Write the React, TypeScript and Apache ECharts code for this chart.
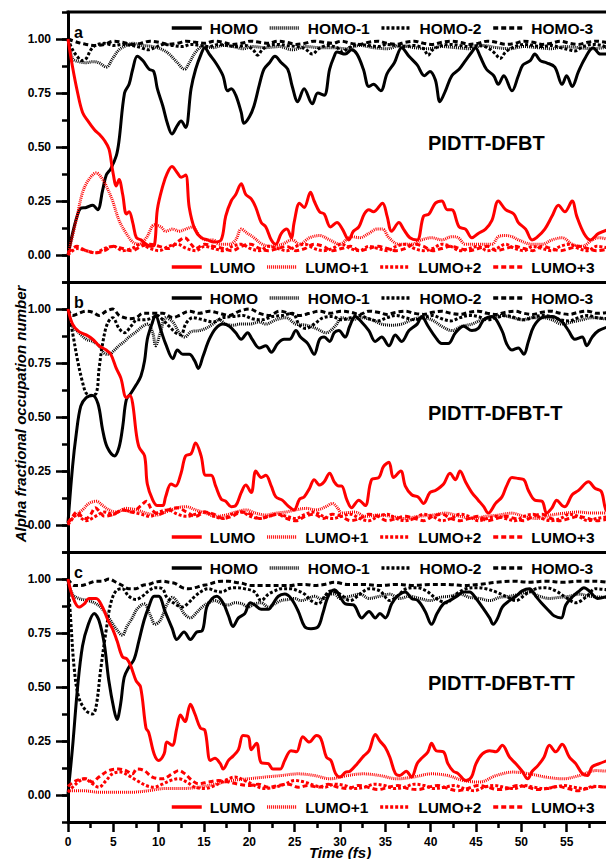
import React, { useEffect, useRef } from "react";
import * as echarts from "echarts";

// ---------- data (time in fs, alpha fractional occupation number) ----------
const seriesNames = ["HOMO", "HOMO-1", "HOMO-2", "HOMO-3", "LUMO", "LUMO+1", "LUMO+2", "LUMO+3"];
const panelTitles = ["PIDTT-DFBT", "PIDTT-DFBT-T", "PIDTT-DFBT-TT"];
const panelLetters = ["a", "b", "c"];
const yTickLabels = ["0.00", "0.25", "0.50", "0.75", "1.00"];
const xTickLabels = ["0", "5", "10", "15", "20", "25", "30", "35", "40", "45", "50", "55"];

// Panel a
const aHomo = [[0,0],[0.5,0.1],[1.0,0.18],[1.4,0.216],[2.0,0.22],[2.7,0.23],[3.25,0.21],[3.8,0.30],[4.2,0.37],[4.7,0.40],[5.3,0.46],[5.6,0.53],[6.2,0.75],[6.7,0.79],[7.1,0.86],[7.6,0.92],[8.2,0.90],[8.9,0.86],[9.4,0.85],[9.8,0.77],[10.4,0.69],[10.9,0.61],[11.4,0.56],[12.0,0.60],[12.4,0.62],[12.9,0.59],[13.5,0.77],[14.0,0.86],[14.6,0.93],[15.0,0.96],[15.5,0.93],[16.2,0.89],[17.0,0.83],[17.5,0.76],[17.9,0.77],[18.4,0.74],[19.0,0.66],[19.3,0.61],[19.9,0.64],[20.4,0.69],[21.0,0.79],[21.5,0.86],[22.1,0.89],[22.7,0.92],[23.4,0.89],[24.1,0.86],[24.6,0.78],[25.2,0.71],[25.9,0.77],[26.8,0.70],[27.4,0.75],[28.1,0.74],[28.7,0.86],[29.2,0.92],[29.5,0.94],[30.4,0.93],[31.1,0.95],[31.7,0.93],[32.4,0.86],[33.0,0.78],[33.5,0.79],[34.3,0.76],[35.0,0.84],[35.8,0.89],[36.6,0.96],[37.4,0.92],[38.3,0.88],[39.1,0.83],[39.7,0.85],[40.3,0.81],[40.8,0.71],[41.4,0.76],[42.1,0.83],[42.9,0.86],[43.6,0.90],[44.3,0.94],[44.7,0.96],[45.2,0.92],[45.9,0.86],[46.7,0.83],[47.2,0.79],[47.8,0.83],[48.7,0.76],[49.4,0.83],[49.9,0.88],[50.7,0.90],[51.2,0.93],[51.8,0.90],[52.5,0.89],[53.4,0.87],[54.2,0.79],[54.7,0.83],[55.3,0.78],[56.0,0.85],[56.7,0.91],[57.6,0.96],[58.4,0.93],[59.5,0.93]];
const aHomo1 = [[0,1.0],[0.5,0.91],[1.2,0.895],[2.0,0.89],[2.7,0.895],[3.4,0.89],[4.2,0.87],[4.9,0.91],[5.6,0.95],[6.4,0.97],[7.1,0.98],[8.2,0.97],[9.3,0.965],[10.4,0.95],[11.1,0.93],[11.9,0.895],[12.8,0.86],[13.3,0.89],[14.0,0.94],[14.8,0.965],[15.9,0.96],[17.0,0.97],[18.1,0.965],[19.2,0.955],[20.2,0.965],[21.7,0.96],[23.2,0.965],[24.6,0.95],[26.1,0.965],[27.6,0.96],[29,0.96],[30.5,0.955],[32,0.97],[33.5,0.96],[35,0.955],[36.5,0.97],[38,0.96],[39.5,0.955],[41,0.965],[42.5,0.96],[44,0.955],[45.5,0.97],[47,0.96],[48.5,0.955],[50,0.965],[51.5,0.96],[53,0.955],[54.5,0.965],[56,0.96],[57.5,0.955],[59.5,0.965]];
const aHomo2 = [[0,1.0],[0.5,0.95],[1.0,0.92],[1.5,0.90],[2.0,0.91],[2.5,0.95],[3.0,0.97],[4,0.98],[5,0.97],[6,0.975],[7,0.97],[8,0.96],[8.8,0.95],[9.5,0.96],[10.5,0.975],[11.5,0.97],[12.5,0.965],[13.5,0.975],[14.5,0.97],[15.5,0.965],[16.5,0.975],[17.5,0.97],[18.5,0.965],[19.5,0.97],[20.3,0.95],[20.8,0.925],[21.3,0.95],[22,0.97],[23,0.975],[24,0.97],[25,0.965],[26,0.955],[26.8,0.93],[27.5,0.955],[28.5,0.97],[29.5,0.96],[30.1,0.94],[30.8,0.96],[32,0.975],[33,0.97],[34,0.965],[35,0.975],[36,0.97],[37,0.965],[38,0.97],[39,0.955],[39.5,0.925],[40,0.95],[41,0.97],[42,0.975],[43,0.97],[44,0.965],[45,0.97],[46,0.96],[46.8,0.935],[47.4,0.91],[48,0.94],[49,0.965],[50,0.975],[51,0.97],[52,0.965],[53,0.97],[54,0.96],[55,0.95],[55.6,0.945],[56.5,0.965],[57.5,0.975],[58.5,0.97],[59.5,0.955]];
const aHomo3 = [[0,1.0],[1,0.985],[2,0.975],[3,0.97],[4,0.975],[5,0.99],[6,0.985],[7,0.975],[8,0.98],[9,0.99],[10,0.985],[11,0.975],[12,0.98],[13,0.99],[14,0.985],[15,0.98],[16,0.99],[17,0.985],[18,0.975],[19,0.98],[20,0.99],[21,0.985],[22,0.98],[23,0.99],[24,0.985],[25,0.975],[26,0.98],[27,0.99],[28,0.985],[29,0.98],[30,0.99],[31,0.98],[32,0.975],[33,0.985],[34,0.99],[35,0.98],[36,0.975],[37,0.985],[38,0.99],[39,0.98],[40,0.975],[41,0.985],[42,0.99],[43,0.985],[44,0.975],[45,0.98],[46,0.99],[47,0.985],[48,0.975],[49,0.98],[50,0.99],[51,0.985],[52,0.975],[53,0.98],[54,0.99],[55,0.98],[56,0.975],[57,0.985],[58,0.99],[59.5,0.98]];
const aLumo = [[0,1.0],[0.5,0.87],[1.06,0.75],[1.6,0.66],[2.2,0.62],[2.9,0.58],[3.4,0.56],[4.0,0.53],[4.5,0.49],[4.9,0.39],[5.3,0.32],[5.6,0.35],[6.0,0.28],[6.4,0.19],[6.7,0.20],[7.1,0.15],[7.5,0.08],[8.0,0.07],[8.6,0.05],[9.1,0.04],[9.5,0.05],[9.8,0.21],[10.4,0.32],[10.9,0.38],[11.4,0.41],[12.0,0.38],[12.4,0.36],[12.9,0.37],[13.3,0.22],[13.9,0.12],[14.6,0.08],[15.3,0.07],[16.0,0.06],[16.8,0.07],[17.3,0.18],[17.9,0.25],[18.4,0.28],[19.0,0.33],[19.5,0.28],[20.1,0.26],[20.6,0.22],[21.2,0.15],[21.7,0.13],[22.3,0.07],[22.8,0.05],[23.4,0.10],[24.0,0.12],[24.5,0.08],[24.8,0.15],[25.4,0.24],[25.9,0.22],[26.6,0.29],[27.0,0.25],[27.6,0.20],[28.1,0.19],[28.8,0.13],[29.5,0.15],[30.1,0.12],[30.8,0.07],[31.3,0.11],[31.9,0.13],[32.5,0.19],[33.0,0.21],[33.5,0.20],[34.5,0.24],[35.0,0.18],[35.5,0.11],[36.3,0.15],[36.8,0.12],[37.5,0.08],[38.3,0.07],[39.0,0.18],[39.6,0.19],[40.3,0.24],[41.0,0.25],[41.6,0.21],[42.1,0.21],[42.9,0.13],[43.6,0.12],[44.3,0.08],[45.0,0.10],[45.8,0.12],[46.5,0.16],[47.2,0.25],[48.0,0.21],[48.9,0.19],[49.4,0.15],[50.2,0.12],[50.9,0.07],[51.4,0.08],[52.3,0.12],[53.1,0.18],[53.8,0.23],[54.5,0.20],[55.3,0.25],[55.8,0.18],[56.6,0.10],[57.3,0.07],[58.2,0.10],[59.5,0.12]];
const aLumo1 = [[0,0],[0.9,0.16],[1.6,0.29],[2.3,0.35],[3.1,0.38],[3.8,0.35],[4.3,0.31],[4.9,0.25],[5.6,0.16],[6.4,0.10],[7.1,0.06],[7.8,0.05],[8.6,0.08],[9.5,0.14],[10.2,0.13],[10.7,0.11],[11.5,0.12],[12.2,0.11],[12.9,0.12],[13.7,0.13],[14.4,0.09],[15.1,0.07],[15.9,0.07],[16.6,0.05],[17.7,0.05],[18.4,0.07],[19.0,0.12],[19.7,0.10],[20.4,0.08],[21.3,0.05],[22.4,0.04],[23.5,0.05],[24.6,0.07],[25.4,0.05],[26.5,0.08],[27.6,0.09],[28.7,0.07],[29.8,0.05],[31.1,0.085],[32.0,0.08],[33.0,0.10],[33.9,0.12],[34.5,0.12],[35.2,0.08],[36.3,0.05],[37.7,0.05],[38.8,0.07],[39.9,0.08],[41.0,0.07],[42.1,0.085],[42.8,0.08],[43.6,0.05],[45.0,0.05],[46.5,0.05],[47.2,0.085],[48.0,0.09],[48.7,0.085],[49.4,0.07],[50.9,0.05],[52.0,0.05],[53.1,0.07],[54.2,0.08],[55.3,0.05],[56.4,0.04],[57.5,0.07],[58.2,0.08],[59.5,0.07]];
const aLumo2 = [[0,0],[1,0.03],[2,0.02],[3,0.01],[4,0.03],[5,0.04],[6,0.02],[7,0.03],[8,0.05],[9,0.03],[10,0.02],[11,0.04],[12,0.05],[13,0.03],[14,0.02],[15,0.04],[16,0.03],[17,0.02],[18,0.04],[19,0.05],[20,0.03],[21,0.02],[22,0.04],[23,0.03],[24,0.02],[25,0.04],[26,0.05],[27,0.03],[28,0.02],[29,0.03],[30,0.05],[31,0.03],[32,0.02],[33,0.04],[34,0.03],[35,0.02],[36,0.04],[37,0.05],[38,0.03],[39,0.02],[40,0.03],[41,0.05],[42,0.04],[43,0.02],[44,0.03],[45,0.04],[46,0.02],[47,0.03],[48,0.05],[49,0.03],[50,0.02],[51,0.04],[52,0.03],[53,0.02],[54,0.04],[55,0.05],[56,0.03],[57,0.02],[58,0.04],[59.5,0.03]];
const aLumo3 = [[0,0.01],[0.5,0.03],[1,0.04],[1.5,0.03],[2,0.02],[3,0.01],[4,0.02],[5,0.04],[6,0.03],[7,0.02],[8,0.04],[9,0.05],[10,0.04],[11,0.03],[12,0.06],[12.8,0.08],[13.5,0.05],[14,0.03],[15,0.05],[16,0.04],[17,0.03],[18,0.02],[19,0.04],[20,0.05],[21,0.03],[22,0.02],[23,0.03],[24,0.04],[25,0.02],[26,0.03],[27,0.05],[28,0.04],[29,0.02],[30,0.03],[31,0.04],[32,0.02],[33,0.03],[34,0.04],[35,0.03],[36,0.02],[37,0.03],[38,0.05],[39,0.04],[40,0.02],[41,0.03],[42,0.04],[43,0.03],[44,0.02],[45,0.03],[46,0.04],[47,0.02],[48,0.03],[49,0.04],[50,0.03],[51,0.02],[52,0.04],[53,0.03],[54,0.02],[55,0.03],[56,0.04],[57,0.03],[58,0.02],[59.5,0.03]];

// Panel b
const bHomo = [[0,0.01],[0.5,0.27],[0.9,0.42],[1.4,0.55],[2.0,0.59],[2.7,0.60],[3.3,0.56],[3.8,0.44],[4.3,0.36],[5.1,0.32],[5.6,0.36],[6.0,0.455],[6.4,0.58],[6.9,0.61],[7.5,0.65],[8.0,0.69],[8.4,0.76],[8.7,0.86],[9.2,0.93],[9.6,0.97],[10.2,0.90],[10.7,0.84],[11.5,0.77],[12.0,0.81],[12.6,0.79],[13.3,0.79],[13.9,0.76],[14.3,0.725],[14.8,0.78],[15.5,0.86],[16.2,0.91],[17.0,0.93],[17.7,0.92],[18.4,0.89],[19.0,0.86],[19.7,0.89],[20.2,0.86],[21.0,0.82],[21.7,0.83],[22.3,0.80],[23.0,0.84],[23.7,0.86],[24.3,0.86],[25.0,0.90],[25.5,0.87],[26.3,0.84],[27.0,0.79],[27.6,0.86],[28.1,0.87],[28.7,0.85],[29.2,0.89],[29.7,0.90],[30.4,0.87],[30.9,0.92],[31.5,0.965],[32.2,0.94],[33.0,0.90],[33.7,0.85],[34.4,0.87],[35.2,0.83],[35.9,0.88],[36.6,0.85],[37.4,0.90],[38.3,0.93],[38.8,0.965],[39.5,0.92],[40.3,0.87],[41.0,0.84],[41.7,0.84],[42.5,0.89],[43.4,0.92],[44.3,0.90],[45.0,0.91],[45.6,0.95],[46.5,0.965],[47.6,0.90],[48.1,0.84],[48.7,0.81],[49.4,0.82],[50.0,0.79],[50.5,0.85],[51.1,0.92],[52.0,0.96],[53.1,0.965],[54.2,0.94],[54.9,0.90],[55.6,0.86],[56.4,0.87],[56.9,0.83],[57.5,0.87],[58.2,0.90],[59.5,0.92]];
const bHomo1 = [[0,1.0],[0.5,0.92],[1.2,0.89],[2.0,0.86],[2.7,0.85],[3.4,0.83],[4.0,0.795],[4.5,0.79],[5.1,0.81],[5.6,0.83],[6.2,0.85],[6.7,0.87],[7.5,0.895],[8.2,0.92],[8.7,0.93],[9.3,0.89],[9.6,0.83],[10.2,0.90],[10.7,0.96],[11.5,0.94],[12.2,0.89],[12.8,0.87],[13.5,0.895],[14.4,0.90],[15.1,0.91],[15.9,0.93],[16.6,0.95],[17.3,0.93],[18.1,0.925],[18.8,0.93],[19.9,0.93],[21,0.94],[21.7,0.93],[22.8,0.95],[23.9,0.96],[25,0.93],[26.1,0.925],[27.2,0.91],[28.3,0.89],[29.4,0.925],[30,0.96],[31.1,0.95],[32.2,0.96],[33.3,0.95],[34.4,0.93],[35.5,0.925],[36.6,0.93],[37.7,0.95],[38.8,0.96],[39.9,0.95],[41,0.92],[42.1,0.90],[43.2,0.92],[44.3,0.93],[45.4,0.95],[46.5,0.96],[47.6,0.97],[48.7,0.96],[49.8,0.95],[50.9,0.96],[52,0.96],[53.1,0.95],[54.2,0.93],[55.3,0.94],[56.4,0.95],[57.5,0.96],[59.5,0.95]];
const bHomo2 = [[0,1.0],[0.5,0.89],[1.06,0.76],[1.6,0.66],[2.0,0.61],[2.5,0.60],[3.1,0.61],[3.4,0.72],[3.8,0.84],[4.3,0.93],[4.9,0.96],[5.6,0.91],[6.2,0.89],[6.9,0.92],[7.6,0.95],[8.4,0.95],[9.3,0.96],[9.8,0.97],[10.4,0.95],[11.1,0.92],[11.8,0.89],[12.4,0.88],[12.9,0.93],[13.7,0.96],[14.8,0.95],[15.9,0.94],[17,0.96],[18.1,0.965],[19.2,0.97],[20.2,0.955],[21.3,0.95],[22.4,0.965],[23.5,0.97],[24.6,0.98],[25.4,0.925],[26.1,0.91],[27,0.93],[28,0.96],[29,0.965],[30,0.95],[31,0.96],[32,0.97],[33,0.955],[34,0.945],[35,0.96],[36,0.97],[37,0.96],[38,0.95],[39,0.96],[40,0.97],[41,0.955],[42,0.945],[43,0.96],[44,0.97],[45,0.965],[46,0.95],[47,0.96],[48,0.97],[49,0.96],[50,0.95],[51,0.96],[52,0.97],[53,0.965],[54,0.95],[55,0.945],[56,0.96],[57,0.97],[58,0.96],[59.5,0.955]];
const bHomo3 = [[0,1.0],[0.5,0.97],[1.2,0.98],[2.0,0.99],[2.7,0.985],[3.4,0.97],[4.2,0.99],[4.9,1.0],[5.6,0.97],[6.2,0.96],[6.7,0.955],[7.5,0.96],[8.2,0.98],[9.3,0.98],[10.4,0.98],[11.5,0.96],[12.2,0.97],[13.3,0.99],[14.4,0.98],[15.5,0.99],[16.6,0.98],[17.7,0.97],[18.8,0.99],[19.9,1.0],[21,0.98],[22.1,0.97],[23.2,0.99],[24.3,0.98],[25.4,0.97],[26.5,0.98],[27.6,0.99],[28.7,0.98],[30,0.99],[31,0.985],[32,0.975],[33,0.99],[34,0.985],[35,0.975],[36,0.985],[37,0.99],[38,0.98],[39,0.975],[40,0.985],[41,0.99],[42,0.98],[43,0.975],[44,0.985],[45,0.99],[46,0.98],[47,0.975],[48,0.985],[49,0.99],[50,0.98],[51,0.975],[52,0.985],[53,0.99],[54,0.98],[55,0.975],[56,0.985],[57,0.99],[58,0.98],[59.5,0.985]];
const bLumo = [[0,1.0],[0.5,0.93],[1.2,0.895],[2.0,0.88],[2.7,0.86],[3.4,0.83],[4.2,0.81],[4.7,0.79],[5.3,0.725],[5.8,0.68],[6.4,0.59],[6.8,0.60],[7.1,0.56],[7.5,0.42],[7.8,0.36],[8.4,0.32],[8.7,0.19],[9.3,0.115],[9.8,0.09],[10.4,0.09],[10.7,0.13],[11.3,0.19],[11.8,0.18],[12.4,0.24],[12.9,0.32],[13.5,0.33],[14.0,0.38],[14.6,0.32],[15.1,0.23],[15.7,0.23],[16.2,0.18],[16.8,0.12],[17.3,0.11],[17.9,0.085],[18.4,0.09],[19.0,0.15],[19.5,0.185],[20.1,0.15],[20.6,0.25],[21.2,0.22],[21.7,0.23],[22.3,0.18],[22.8,0.13],[23.5,0.115],[24.1,0.09],[24.8,0.07],[25.4,0.12],[25.9,0.13],[26.5,0.17],[27.0,0.21],[27.6,0.185],[28.1,0.20],[28.7,0.24],[29.2,0.20],[29.7,0.18],[30.0,0.18],[30.6,0.115],[31.1,0.08],[31.9,0.115],[32.6,0.09],[33.3,0.21],[34.1,0.22],[34.6,0.27],[35.2,0.29],[35.7,0.22],[36.5,0.25],[37.0,0.18],[37.7,0.14],[38.4,0.13],[39.0,0.10],[39.7,0.15],[40.3,0.16],[41.2,0.19],[41.9,0.24],[42.5,0.21],[43.0,0.25],[43.6,0.20],[44.3,0.15],[45.0,0.115],[45.6,0.085],[46.1,0.055],[46.9,0.10],[47.6,0.13],[48.1,0.18],[48.7,0.22],[49.4,0.215],[50.0,0.21],[50.5,0.16],[51.2,0.115],[52.0,0.11],[52.5,0.055],[53.1,0.08],[53.6,0.115],[54.2,0.09],[54.5,0.085],[55.3,0.14],[56.0,0.16],[57.1,0.20],[57.8,0.17],[58.5,0.155],[59.0,0.07],[59.5,0.06]];
const bLumo1 = [[0,0.01],[0.7,0.04],[1.6,0.07],[2.3,0.10],[3.1,0.11],[3.8,0.09],[4.5,0.07],[5.3,0.06],[6.4,0.077],[7.5,0.07],[8.6,0.055],[9.6,0.046],[10.7,0.06],[11.8,0.077],[12.9,0.085],[14.0,0.07],[15.1,0.055],[16.2,0.04],[17.3,0.046],[18.4,0.06],[19.5,0.07],[20.6,0.055],[21.7,0.046],[22.8,0.055],[23.9,0.06],[25,0.07],[26.1,0.077],[27.2,0.07],[28.3,0.085],[29,0.10],[29.6,0.077],[30,0.055],[31.5,0.06],[32.6,0.04],[34,0.046],[35.5,0.04],[37,0.03],[38.4,0.04],[40,0.046],[41.4,0.055],[43,0.04],[44.5,0.03],[45.8,0.04],[47.2,0.046],[48.7,0.055],[50,0.04],[51.5,0.03],[53,0.046],[54.5,0.055],[56,0.06],[57.5,0.055],[59.5,0.055]];
const bLumo2 = [[0,0.0],[0.5,0.03],[1,0.05],[1.5,0.03],[2,0.02],[3,0.04],[4,0.06],[5,0.05],[6,0.07],[7,0.06],[8,0.05],[9,0.04],[10,0.06],[11,0.07],[12,0.05],[13,0.04],[14,0.05],[15,0.06],[16,0.04],[17,0.03],[18,0.05],[19,0.06],[20,0.04],[21,0.03],[22,0.04],[23,0.05],[24,0.04],[25,0.03],[26,0.05],[27,0.06],[28,0.04],[29,0.03],[30,0.04],[31,0.05],[32,0.03],[33,0.02],[34,0.04],[35,0.05],[36,0.03],[37,0.02],[38,0.03],[39,0.05],[40,0.04],[41,0.02],[42,0.03],[43,0.05],[44,0.04],[45,0.02],[46,0.03],[47,0.04],[48,0.03],[49,0.02],[50,0.04],[51,0.05],[52,0.03],[53,0.02],[54,0.03],[55,0.05],[56,0.04],[57,0.02],[58,0.03],[59.5,0.04]];
const bLumo3 = [[0,0.01],[0.5,0.04],[1,0.06],[1.5,0.04],[2,0.03],[2.5,0.05],[3,0.08],[3.5,0.06],[4,0.04],[5,0.05],[6,0.07],[7,0.06],[8,0.09],[8.6,0.11],[9.2,0.07],[10,0.05],[11,0.07],[12,0.08],[13,0.06],[14,0.04],[15,0.06],[16,0.05],[17,0.03],[18,0.04],[19,0.06],[20,0.05],[21,0.03],[22,0.04],[23,0.05],[24,0.03],[25,0.02],[26,0.04],[27,0.05],[28,0.03],[29,0.05],[30,0.04],[31,0.02],[32,0.03],[33,0.05],[34,0.04],[35,0.02],[36,0.03],[37,0.04],[38,0.03],[39,0.02],[40,0.04],[41,0.05],[42,0.03],[43,0.02],[44,0.03],[45,0.04],[46,0.02],[47,0.03],[48,0.04],[49,0.03],[50,0.02],[51,0.04],[52,0.05],[53,0.03],[54,0.02],[55,0.03],[56,0.04],[57,0.03],[58,0.02],[59.5,0.03]];

// Panel c
const cHomo = [[0,0.005],[0.5,0.22],[1.06,0.50],[1.6,0.69],[2.2,0.785],[2.9,0.84],[3.4,0.81],[4.0,0.70],[4.5,0.53],[5.1,0.39],[5.4,0.35],[5.8,0.42],[6.2,0.545],[6.7,0.59],[7.3,0.63],[7.8,0.71],[8.4,0.81],[8.9,0.87],[9.5,0.92],[10.0,0.92],[10.7,0.85],[11.5,0.77],[12.0,0.72],[12.8,0.755],[13.5,0.72],[14.2,0.755],[14.8,0.76],[15.3,0.87],[15.9,0.91],[16.4,0.92],[17.1,0.89],[17.7,0.83],[18.2,0.78],[18.8,0.82],[19.5,0.84],[20.1,0.89],[20.6,0.88],[21.3,0.86],[22.1,0.86],[22.6,0.885],[23.2,0.92],[23.9,0.93],[24.6,0.91],[25.4,0.85],[26.1,0.78],[26.8,0.77],[27.6,0.78],[28.1,0.84],[28.7,0.92],[29.4,0.95],[29.7,0.94],[30.6,0.885],[31.5,0.88],[32.4,0.82],[33.2,0.85],[33.9,0.82],[34.4,0.84],[35.0,0.82],[35.7,0.885],[36.3,0.92],[37.2,0.94],[37.9,0.91],[38.6,0.90],[39.4,0.85],[40.1,0.79],[40.7,0.84],[41.4,0.885],[42.1,0.90],[42.9,0.92],[43.6,0.94],[44.3,0.94],[45.0,0.91],[45.7,0.87],[46.5,0.82],[46.9,0.79],[47.4,0.82],[47.9,0.87],[48.7,0.90],[49.4,0.92],[50.1,0.945],[50.9,0.955],[51.6,0.92],[52.3,0.885],[53.1,0.85],[53.6,0.83],[54.4,0.82],[54.9,0.88],[55.7,0.92],[56.4,0.945],[56.9,0.96],[57.6,0.94],[58.4,0.91],[59.5,0.92]];
const cHomo1 = [[0,0.99],[0.5,0.93],[1.2,0.91],[2.2,0.90],[2.9,0.89],[3.6,0.87],[4.5,0.82],[5.3,0.77],[6.0,0.74],[6.5,0.78],[7.1,0.82],[7.6,0.86],[8.4,0.885],[9.1,0.83],[9.6,0.79],[10.2,0.81],[10.9,0.88],[11.5,0.915],[12.2,0.885],[12.8,0.84],[13.5,0.82],[14.2,0.845],[14.8,0.87],[15.5,0.89],[16.2,0.90],[17.0,0.885],[17.7,0.88],[18.4,0.89],[19.2,0.885],[19.9,0.87],[20.6,0.885],[21.3,0.89],[22.1,0.87],[22.8,0.885],[23.5,0.90],[24.3,0.905],[25,0.91],[25.7,0.90],[26.5,0.91],[27.2,0.92],[28,0.905],[28.7,0.93],[29.4,0.93],[30,0.91],[31.1,0.92],[32.2,0.93],[33.2,0.91],[34.4,0.92],[35.5,0.93],[36.6,0.91],[37.7,0.92],[38.8,0.91],[39.9,0.90],[41,0.915],[42.1,0.92],[43.2,0.93],[44.3,0.915],[45.4,0.91],[46.5,0.90],[47.6,0.915],[48.7,0.92],[49.8,0.93],[50.9,0.94],[52,0.92],[53.1,0.91],[54.2,0.915],[55.3,0.92],[56.4,0.93],[57.5,0.92],[59.5,0.915]];
const cHomo2 = [[0,1.0],[0.3,0.81],[0.7,0.58],[1.2,0.45],[2.0,0.39],[2.7,0.375],[3.1,0.41],[3.6,0.58],[4.2,0.76],[4.7,0.885],[5.3,0.945],[6.0,0.955],[6.7,0.92],[7.5,0.905],[8.2,0.92],[8.9,0.945],[9.6,0.96],[10.4,0.955],[10.9,0.915],[11.8,0.885],[12.6,0.87],[13.3,0.89],[14.0,0.92],[14.8,0.945],[15.5,0.955],[16.2,0.945],[17.0,0.94],[17.7,0.955],[18.4,0.96],[19.5,0.955],[20.6,0.94],[21.3,0.90],[22.1,0.93],[22.8,0.945],[23.5,0.955],[24.6,0.955],[25.4,0.945],[26.1,0.93],[26.8,0.90],[27.6,0.885],[28.3,0.92],[29,0.945],[30,0.93],[31.1,0.90],[32.2,0.93],[33.2,0.955],[34.4,0.945],[35.5,0.90],[36.3,0.92],[37.3,0.955],[38.4,0.96],[39.5,0.945],[40.6,0.91],[41.7,0.89],[42.8,0.93],[43.9,0.955],[45,0.96],[46.1,0.955],[47.2,0.94],[48.3,0.92],[49.4,0.90],[50.5,0.93],[51.6,0.955],[52.7,0.96],[53.8,0.945],[54.9,0.915],[56,0.89],[57.1,0.915],[58.2,0.955],[59.5,0.95]];
const cHomo3 = [[0,1.0],[0.7,0.97],[1.4,0.97],[2.3,0.98],[3.1,0.99],[3.8,0.99],[4.5,1.0],[5.3,0.985],[6.0,0.97],[6.7,0.955],[7.5,0.955],[8.2,0.97],[8.9,0.975],[9.6,0.985],[10.4,0.99],[11.1,0.985],[11.8,0.98],[12.6,0.96],[13.3,0.955],[14.0,0.96],[14.8,0.97],[15.5,0.975],[16.2,0.985],[17.0,0.99],[17.7,0.99],[18.4,0.985],[19.2,0.98],[20.2,0.97],[21.3,0.97],[22.4,0.97],[23.5,0.97],[24.6,0.97],[25.4,0.975],[26.2,0.975],[27.2,0.97],[28.3,0.975],[29.4,0.985],[30.8,0.975],[32.6,0.975],[34.4,0.97],[36.3,0.975],[38.1,0.97],[39.9,0.975],[41.8,0.975],[43.6,0.97],[45.4,0.975],[47.2,0.985],[49.1,0.99],[50.9,0.985],[52.7,0.99],[54.6,0.985],[56.4,0.99],[58.2,0.99],[59.5,0.985]];
const cLumo = [[0,1.0],[0.5,0.92],[1.2,0.87],[1.8,0.885],[2.3,0.91],[3.1,0.91],[3.8,0.87],[4.4,0.81],[4.9,0.77],[5.4,0.715],[6.0,0.64],[6.5,0.63],[6.9,0.60],[7.5,0.53],[8.0,0.50],[8.6,0.31],[8.9,0.29],[9.5,0.19],[10.0,0.16],[10.6,0.19],[10.9,0.245],[11.5,0.23],[12.0,0.31],[12.4,0.37],[12.9,0.34],[13.5,0.42],[14.0,0.375],[14.6,0.31],[15.1,0.30],[15.7,0.16],[16.2,0.17],[16.8,0.145],[17.1,0.12],[17.7,0.16],[18.2,0.18],[18.8,0.21],[19.3,0.275],[19.9,0.27],[20.2,0.21],[20.8,0.24],[21.3,0.15],[22.1,0.145],[22.6,0.12],[23.4,0.12],[23.9,0.16],[24.6,0.205],[25.2,0.20],[25.9,0.27],[26.6,0.245],[27.4,0.275],[27.9,0.26],[28.5,0.175],[29.0,0.16],[29.5,0.10],[30.0,0.083],[30.6,0.105],[31.1,0.11],[31.9,0.145],[32.6,0.18],[33.2,0.205],[33.9,0.28],[34.4,0.25],[35.0,0.22],[35.5,0.175],[36.1,0.10],[36.6,0.09],[37.3,0.11],[37.9,0.083],[38.5,0.145],[39.0,0.17],[39.7,0.20],[40.1,0.24],[40.6,0.205],[41.4,0.20],[41.9,0.145],[42.5,0.11],[43.0,0.10],[43.9,0.067],[44.5,0.083],[45.0,0.145],[45.7,0.19],[46.5,0.205],[47.2,0.20],[47.9,0.23],[48.7,0.175],[49.4,0.145],[50.1,0.11],[50.7,0.075],[51.2,0.11],[51.8,0.135],[52.5,0.175],[53.1,0.23],[53.8,0.20],[54.5,0.235],[55.3,0.175],[56.0,0.145],[56.7,0.10],[57.3,0.09],[57.8,0.13],[58.6,0.145],[59.5,0.16]];
const cLumo1 = [[0,0.02],[1.6,0.02],[3.4,0.013],[5.3,0.013],[7.1,0.013],[8.9,0.02],[10.7,0.03],[12.6,0.03],[14.4,0.036],[16.2,0.05],[18.1,0.067],[19.9,0.075],[21.7,0.083],[23.5,0.09],[25.4,0.098],[27.2,0.09],[28.9,0.075],[30.8,0.09],[32.6,0.098],[34.4,0.09],[36.3,0.075],[38.1,0.083],[40.1,0.098],[41.9,0.09],[43.6,0.067],[45.4,0.06],[47.2,0.09],[49.1,0.106],[50.9,0.098],[52.7,0.083],[54.6,0.075],[56.4,0.09],[58.2,0.113],[59.5,0.11]];
const cLumo2 = [[0,0.013],[0.9,0.052],[1.8,0.075],[2.7,0.052],[3.4,0.036],[4.2,0.067],[4.9,0.098],[5.8,0.106],[6.7,0.09],[7.6,0.067],[8.6,0.044],[9.5,0.036],[10.4,0.05],[11.3,0.067],[12.2,0.075],[13.1,0.06],[14.0,0.036],[15.1,0.03],[16.2,0.044],[17.3,0.067],[18.4,0.083],[19.5,0.067],[20.6,0.044],[21.7,0.03],[22.8,0.036],[23.9,0.05],[25.0,0.067],[26.1,0.06],[27.2,0.044],[28.3,0.036],[29.4,0.05],[30.5,0.044],[31.6,0.03],[32.7,0.036],[33.8,0.05],[34.9,0.044],[36,0.03],[37.1,0.036],[38.2,0.05],[39.3,0.044],[40.4,0.03],[41.5,0.036],[42.6,0.044],[43.7,0.03],[44.8,0.02],[45.9,0.036],[47,0.044],[48.1,0.036],[49.2,0.03],[50.3,0.044],[51.4,0.036],[52.5,0.03],[53.6,0.036],[54.7,0.044],[55.8,0.036],[56.9,0.03],[58,0.04],[59.5,0.036]];
const cLumo3 = [[0,0.04],[0.9,0.067],[2.0,0.075],[2.7,0.06],[3.4,0.083],[4.5,0.113],[5.6,0.12],[6.4,0.113],[7.1,0.098],[7.6,0.12],[8.4,0.113],[9.3,0.083],[10.4,0.075],[11.5,0.098],[12.2,0.113],[12.9,0.098],[13.7,0.067],[14.4,0.052],[15.5,0.06],[16.6,0.067],[17.7,0.06],[18.8,0.05],[19.9,0.044],[21.0,0.05],[22.1,0.036],[23.2,0.044],[24.3,0.05],[25.4,0.036],[26.5,0.044],[27.6,0.036],[28.7,0.05],[29.8,0.036],[30.9,0.03],[32,0.044],[33.1,0.036],[34.2,0.025],[35.3,0.036],[36.4,0.044],[37.5,0.03],[38.6,0.025],[39.7,0.036],[40.8,0.044],[41.9,0.03],[43,0.02],[44.1,0.03],[45.2,0.044],[46.3,0.036],[47.4,0.025],[48.5,0.03],[49.6,0.044],[50.7,0.036],[51.8,0.025],[52.9,0.03],[54,0.04],[55.1,0.03],[56.2,0.02],[57.3,0.03],[58.4,0.04],[59.5,0.035]];

const panelData = [
  [aHomo, aHomo1, aHomo2, aHomo3, aLumo, aLumo1, aLumo2, aLumo3],
  [bHomo, bHomo1, bHomo2, bHomo3, bLumo, bLumo1, bLumo2, bLumo3],
  [cHomo, cHomo1, cHomo2, cHomo3, cLumo, cLumo1, cLumo2, cLumo3],
];

// ---------- styles ----------
const BLACK = "#000000";
const RED = "#ff0000";
const lineLooks: { color: string; type: any }[] = [
  { color: BLACK, type: "solid" },
  { color: BLACK, type: [1, 1] },
  { color: BLACK, type: [3, 2] },
  { color: BLACK, type: [5, 3] },
  { color: RED, type: "solid" },
  { color: RED, type: [1, 1] },
  { color: RED, type: [3, 2] },
  { color: RED, type: [5, 3] },
];
const FONT = "'Liberation Sans', Arial, Helvetica, sans-serif";

export default function App() {
  const ref = useRef<HTMLDivElement>(null);

  useEffect(() => {
    if (!ref.current) return;
    const chart = echarts.init(ref.current, null, { renderer: "svg" });

    const LEFT = 68;
    const PANEL_H = 270;
    const TOP0 = 12;
    const PX_PER_UNIT = 216;

    const grids: any[] = [];
    const xAxes: any[] = [];
    const yAxes: any[] = [];
    const series: any[] = [];
    const legends: any[] = [];
    const graphics: any[] = [];

    // main grids
    panelData.forEach((_, i) => {
      const T = TOP0 + PANEL_H * i;
      grids.push({ left: LEFT, right: 0, top: T, height: PANEL_H, containLabel: false });
      const isBottom = i === panelData.length - 1;
      xAxes.push({
        type: "value",
        gridIndex: i,
        min: 0,
        max: 60,
        interval: 5,
        axisLine: { show: true, onZero: false, lineStyle: { color: BLACK, width: 3 } },
        axisTick: { show: isBottom, length: 10, lineStyle: { color: BLACK, width: 2.5 } },
        minorTick: { show: isBottom, splitNumber: 2, length: 6, lineStyle: { color: BLACK, width: 2.5 } },
        axisLabel: {
          show: isBottom,
          margin: 14,
          fontFamily: FONT,
          fontWeight: "bold",
          fontSize: 12,
          color: BLACK,
          formatter: (v: number) => (xTickLabels.includes(String(v)) ? String(v) : ""),
        },
        splitLine: { show: false },
      });
      yAxes.push({
        type: "value",
        gridIndex: i,
        min: -0.125,
        max: 1.125,
        interval: 0.125,
        axisLine: { show: true, onZero: false, lineStyle: { color: BLACK, width: 3 } },
        axisTick: { show: true, length: 6, lineStyle: { color: BLACK, width: 2.5 } },
        axisLabel: { show: false },
        splitLine: { show: false },
      });
    });

    // overlay grids for long ticks + labels (0..1)
    panelData.forEach((_, i) => {
      const T = TOP0 + PANEL_H * i;
      const gi = grids.length;
      grids.push({ left: LEFT, right: 0, top: T + 0.125 * PX_PER_UNIT, height: PX_PER_UNIT });
      xAxes.push({ type: "value", gridIndex: gi, min: 0, max: 60, show: false });
      yAxes.push({
        type: "value",
        gridIndex: gi,
        min: 0,
        max: 1,
        interval: 0.25,
        axisLine: { show: false, onZero: false },
        axisTick: { show: true, length: 12, lineStyle: { color: BLACK, width: 2.5 } },
        axisLabel: {
          show: true,
          margin: 17,
          fontFamily: FONT,
          fontWeight: "bold",
          fontSize: 12,
          color: BLACK,
          formatter: (v: number) => yTickLabels[Math.round(v * 4)] ?? "",
        },
        splitLine: { show: false },
      });
    });

    // series
    panelData.forEach((arrs, i) => {
      arrs.forEach((d, k) => {
        series.push({
          type: "line",
          name: seriesNames[k],
          xAxisIndex: i,
          yAxisIndex: i,
          data: d,
          symbol: "none",
          showSymbol: false,
          smooth: 0.35,
          clip: true,
          z: 2 + k,
          itemStyle: { color: lineLooks[k].color },
          lineStyle: { color: lineLooks[k].color, width: 3, type: lineLooks[k].type },
        });
      });
    });

    // legends, labels
    panelData.forEach((_, i) => {
      const T = TOP0 + PANEL_H * i;
      const common = {
        orient: "horizontal",
        left: 170,
        itemWidth: 30,
        itemHeight: 14,
        itemGap: 10,
        padding: 0,
        selectedMode: false,
        itemStyle: { opacity: 0, color: "rgba(0,0,0,0)", borderWidth: 0 },
        lineStyle: { width: 3.5 },
        textStyle: {
          fontFamily: FONT,
          fontWeight: "bold",
          fontSize: 15.5,
          color: BLACK,
          lineHeight: 16,
          padding: [0, 0, 0, 3],
        },
      };
      legends.push({ ...common, top: T + 8, data: seriesNames.slice(0, 4) });
      legends.push({ ...common, top: T + 247, data: seriesNames.slice(4) });

      graphics.push({
        type: "text",
        x: 74,
        y: T + 20,
        style: {
          text: panelLetters[i],
          font: `bold 16px ${FONT}`,
          fill: BLACK,
          textAlign: "left",
          textVerticalAlign: "middle",
        },
      });
      graphics.push({
        type: "text",
        x: 428,
        y: T + 131,
        style: {
          text: panelTitles[i],
          font: `bold 20px ${FONT}`,
          fill: BLACK,
          textAlign: "left",
          textVerticalAlign: "middle",
        },
      });
    });

    graphics.push({
      type: "line",
      shape: { x1: LEFT - 1.5, y1: TOP0, x2: 620, y2: TOP0 },
      style: { stroke: BLACK, lineWidth: 3 },
    });
    graphics.push({
      type: "text",
      x: 20,
      y: 414,
      rotation: Math.PI / 2,
      style: {
        text: "Alpha fractional occupation number",
        font: `italic bold 15px ${FONT}`,
        fill: BLACK,
        textAlign: "center",
        textVerticalAlign: "middle",
      },
    });
    graphics.push({
      type: "text",
      x: 340,
      y: 852,
      style: {
        text: "Time (fs)",
        font: `italic bold 15px ${FONT}`,
        fill: BLACK,
        textAlign: "center",
        textVerticalAlign: "middle",
      },
    });

    chart.setOption({
      animation: false,
      backgroundColor: "#ffffff",
      grid: grids,
      xAxis: xAxes,
      yAxis: yAxes,
      legend: legends,
      series,
      graphic: graphics,
    });

    return () => {
      chart.dispose();
    };
  }, []);

  return (
    <div
      style={{
        position: "fixed",
        left: 0,
        top: 0,
        width: 606,
        height: 859,
        overflow: "hidden",
        background: "#ffffff",
      }}
    >
      <div ref={ref} style={{ width: 615, height: 859 }} />
    </div>
  );
}
